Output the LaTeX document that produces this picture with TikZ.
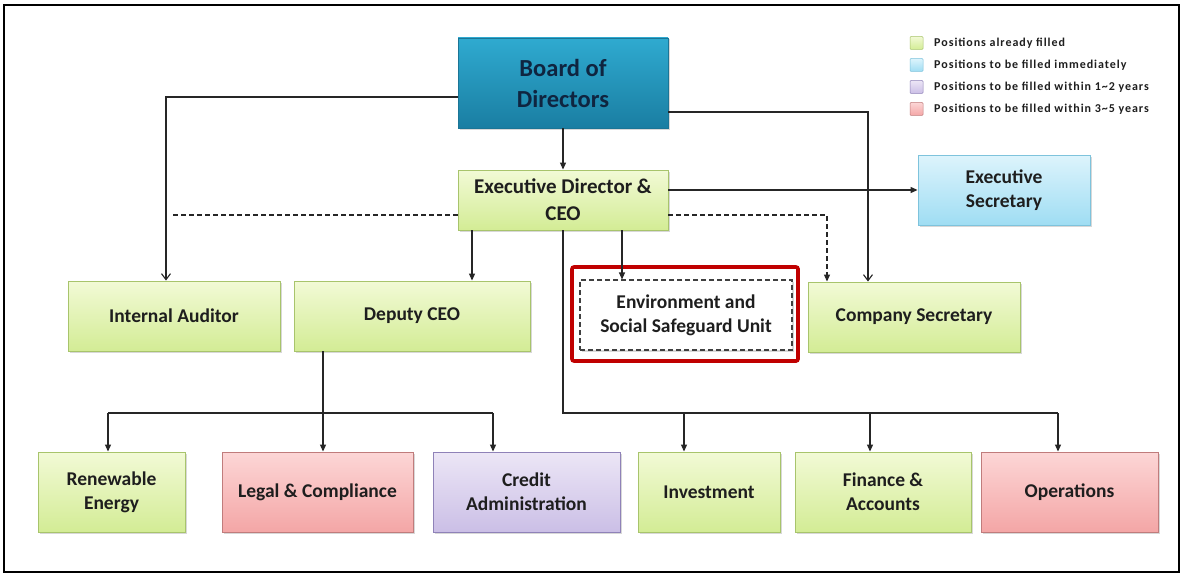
\documentclass[tikz,border=0pt]{standalone}
\usepackage{fontspec}
\setmainfont{Carlito}
\usetikzlibrary{arrows.meta,shadows}
\definecolor{txt}{HTML}{1E1E1E}
\definecolor{gTop}{HTML}{F2FAD6}\definecolor{gBot}{HTML}{D3EC95}\definecolor{gLine}{HTML}{A8C46C}
\definecolor{rTop}{HTML}{FCD6D6}\definecolor{rBot}{HTML}{F4A6A6}\definecolor{rLine}{HTML}{C07C7C}
\definecolor{pTop}{HTML}{ECE6F6}\definecolor{pBot}{HTML}{CBBFE6}\definecolor{pLine}{HTML}{8F82B8}
\definecolor{bTop}{HTML}{DDF4FC}\definecolor{bBot}{HTML}{9FDDF3}\definecolor{bLine}{HTML}{7EC3DC}
\definecolor{tTop}{HTML}{2FAAD0}\definecolor{tBot}{HTML}{1A7EA2}\definecolor{tLine}{HTML}{1B7596}
\definecolor{navy}{HTML}{0F2540}
\definecolor{redframe}{HTML}{C00000}
\tikzset{
  box/.style={draw, line width=0.9pt, align=center, text=txt,
    font=\bfseries\fontsize{19.5}{24}\selectfont, inner sep=2pt,
    drop shadow={opacity=0.3, shadow xshift=1.5pt, shadow yshift=-1.5pt}},
  green/.style={box, top color=gTop, bottom color=gBot, draw=gLine},
  redb/.style={box, top color=rTop, bottom color=rBot, draw=rLine},
  purp/.style={box, top color=pTop, bottom color=pBot, draw=pLine},
  blue/.style={box, top color=bTop, bottom color=bBot, draw=bLine},
  teal/.style={box, top color=tTop, bottom color=tBot, draw=tLine, text=navy,
    font=\bfseries\fontsize{24.5}{31}\selectfont},
  conn/.style={line width=1.1pt, draw=black!85},
  arr/.style={conn, -{Triangle[length=7pt,width=6pt]}},
  oarr/.style={conn, -{Straight Barb[length=6pt,width=9pt]}},
  dline/.style={conn, dashed, dash pattern=on 5pt off 3pt},
  dlarr/.style={dline, -{Triangle[length=7pt,width=6pt]}},
  legsq/.style={draw, line width=0.5pt, minimum size=13pt, inner sep=0pt, rounded corners=1pt},
  legtxt/.style={anchor=west, text=txt, font=\bfseries\fontsize{12}{14}\selectfont\addfontfeatures{LetterSpace=8}, inner sep=0pt}
}
\begin{document}
\begin{tikzpicture}[x=1pt,y=-1pt]
\useasboundingbox (0,0) rectangle (1182,575);
\fill[white] (0,0) rectangle (1182,575);
\draw[line width=1.6pt, black] (4,5) rectangle (1179,572);

% nodes
\node[teal, minimum width=210pt, minimum height=90pt] (board) at (563,83) {Board of\\Directors};
\node[green, minimum width=210pt, minimum height=60pt, font=\bfseries\fontsize{21}{27}\selectfont] (ceo) at (563,200) {Executive Director \&\\CEO};
\node[blue, minimum width=172pt, minimum height=70pt] (es) at (1004,190) {Executive\\Secretary};

\node[green, minimum width=212pt, minimum height=70pt] (ia) at (174,316) {Internal Auditor};
\node[green, minimum width=236pt, minimum height=70pt, text height=13.5pt, text depth=4.5pt] (dep) at (412,316) {Deputy CEO};
\node[draw=redframe, line width=3.6pt, rounded corners=2pt, minimum width=226pt, minimum height=94pt] (frame) at (685,314) {};
\node[box, draw=black!75, dashed, dash pattern=on 5pt off 3pt, line width=1.1pt, fill=white, drop shadow={opacity=0}, minimum width=212pt, minimum height=70pt] (env) at (686,315) {Environment and\\Social Safeguard Unit};
\node[green, minimum width=212pt, minimum height=70pt] (cs) at (914,317) {Company Secretary};

\node[green, minimum width=147pt, minimum height=80pt] (ren) at (111.5,492) {Renewable\\Energy};
\node[redb, minimum width=191pt, minimum height=80pt] (legal) at (317.5,492) {Legal \& Compliance};
\node[purp, minimum width=187pt, minimum height=80pt] (credit) at (526.5,492) {Credit\\Administration};
\node[green, minimum width=142pt, minimum height=80pt] (inv) at (709,492) {Investment};
\node[green, minimum width=176pt, minimum height=80pt] (fin) at (883,492) {Finance \&\\Accounts};
\node[redb, minimum width=177pt, minimum height=80pt] (ops) at (1069.5,492) {Operations};

% legend
\node[legsq, top color=gTop, bottom color=gBot, draw=gLine] (l1) at (916.5,43) {};
\node[legsq, top color=bTop, bottom color=bBot, draw=bLine] (l2) at (916.5,65) {};
\node[legsq, top color=pTop, bottom color=pBot, draw=pLine] (l3) at (916.5,87) {};
\node[legsq, top color=rTop, bottom color=rBot, draw=rLine] (l4) at (916.5,109) {};
\node[legtxt] (t1) at (934,43) {Positions already filled};
\node[legtxt] (t2) at (934,65) {Positions to be filled immediately};
\node[legtxt] (t3) at (934,87) {Positions to be filled within 1\textasciitilde2 years};
\node[legtxt] (t4) at (934,109) {Positions to be filled within 3\textasciitilde5 years};

% connectors
\draw[arr] (board.south) -- (ceo.north);
\draw[oarr] ([yshift=-14pt]board.west) -| ([xshift=-8pt]ia.north);
\draw[oarr] ([yshift=-29pt]board.east) -| ([xshift=-46pt]cs.north);
\draw[arr] (ceo.east |- es.west) -- (es.west);
\draw[dlarr] ([yshift=-15pt]ceo.east) -| ([xshift=-87pt]cs.north);
\coordinate (dl) at (173,215);
\draw[dline] ([yshift=-15pt]ceo.west) -- (dl);
\draw[arr] ([xshift=-91pt]ceo.south) -- ([xshift=-91pt]ceo.south |- dep.north);
\draw[arr] ([xshift=59pt]ceo.south) -- ([xshift=59pt]ceo.south |- env.north);

\coordinate (jr) at (563,413);
\draw[conn] (ceo.south) -- (jr) -- ([xshift=-11.5pt]ops.north |- jr);
\draw[arr] ([xshift=-25pt]inv.north |- jr) -- ([xshift=-25pt]inv.north);
\draw[arr] ([xshift=-13pt]fin.north |- jr) -- ([xshift=-13pt]fin.north);
\draw[arr] ([xshift=-11.5pt]ops.north |- jr) -- ([xshift=-11.5pt]ops.north);

\coordinate (jl) at (323,413);
\draw[conn] ([xshift=-89pt]dep.south) -- (jl);
\draw[conn] ([xshift=-3.5pt]ren.north |- jl) -- ([xshift=-33.5pt]credit.north |- jl);
\draw[arr] ([xshift=-3.5pt]ren.north |- jl) -- ([xshift=-3.5pt]ren.north);
\draw[arr] (jl) -- ([xshift=5.5pt]legal.north);
\draw[arr] ([xshift=-33.5pt]credit.north |- jl) -- ([xshift=-33.5pt]credit.north);
\end{tikzpicture}
\end{document}
